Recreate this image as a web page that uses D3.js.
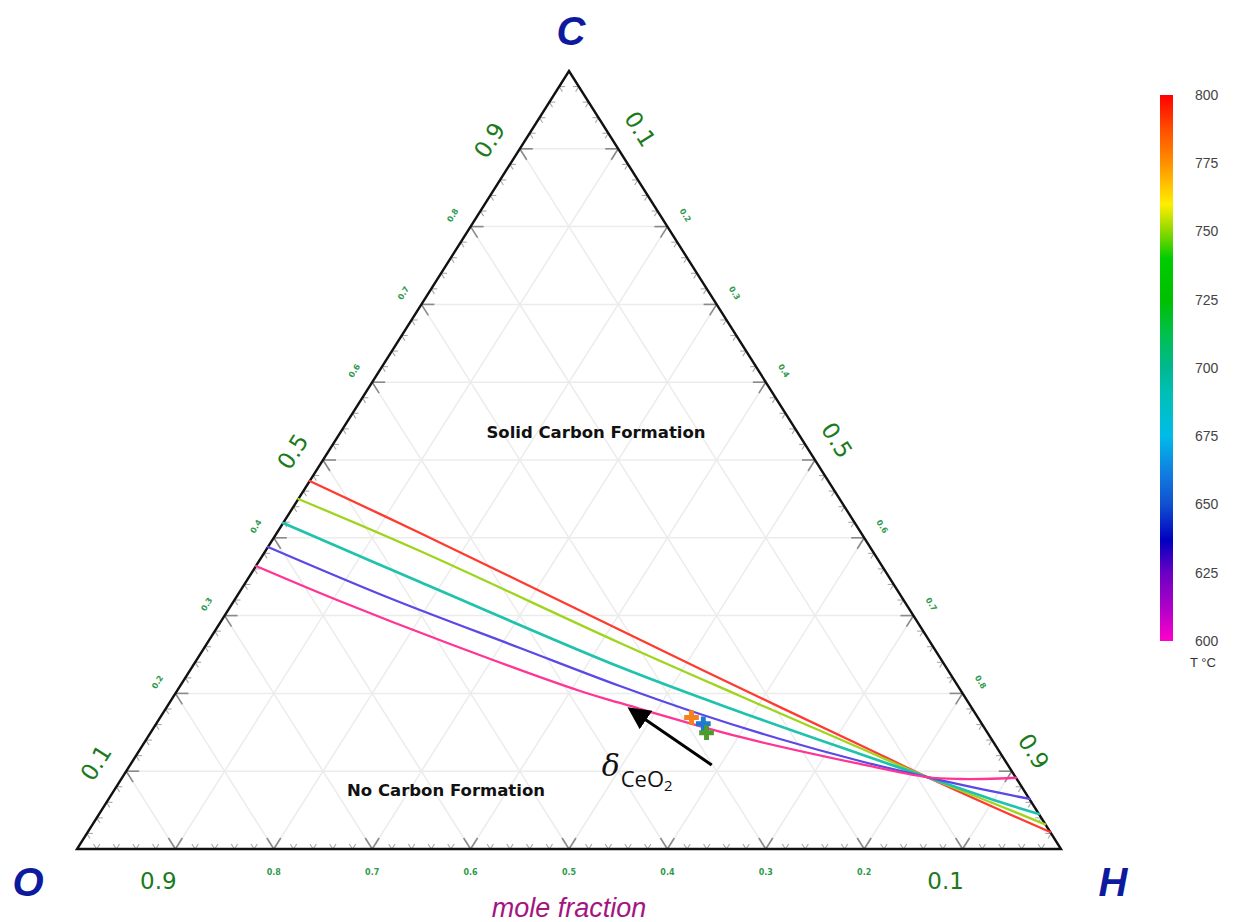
<!DOCTYPE html>
<html><head><meta charset="utf-8">
<script src="https://cdn.jsdelivr.net/npm/d3@7"></script>
<style>body{margin:0;background:#fff;} svg{display:block;}</style>
</head><body>
<svg id="chart" width="1235" height="922"></svg>
<script>
// ---------- data (ternary points as [H fraction, C fraction]; O = 1 - H - C) ----------
const temperatures = [800, 750, 700, 650, 600];
const curve800 = [[0.000,0.473],[0.1455,0.4062],[0.4111,0.2815],[0.5703,0.2069],[0.7289,0.1337],[0.8175,0.0925],[0.9129,0.0501],[0.978,0.0219]];
const curve750 = [[0.000,0.4499],[0.1571,0.3830],[0.4194,0.2648],[0.5755,0.1967],[0.7308,0.1298],[0.8175,0.0925],[0.9104,0.0553],[0.968,0.0317]];
const curve700 = [[0.000,0.419],[0.1770,0.3432],[0.4349,0.2339],[0.5858,0.1761],[0.7347,0.1221],[0.8175,0.0925],[0.9078,0.0604],[0.955,0.045]];
const curve650 = [[0.000,0.3882],[0.1594,0.3213],[0.3210,0.2584],[0.4470,0.2095],[0.5463,0.1735],[0.6437,0.1414],[0.7391,0.1131],[0.8175,0.0925],[0.902,0.0720],[0.936,0.0643]];
const curve600 = [[0.000,0.3638],[0.1042,0.3201],[0.2474,0.2635],[0.4097,0.2031],[0.4580,0.1877],[0.6018,0.1440],[0.7411,0.1093],[0.8175,0.0925],[0.8524,0.0900],[0.8927,0.0906],[0.9084,0.0916]];
const markerPoints = [[0.540,0.169],[0.556,0.161],[0.565,0.1495]];
const arrowPoints = [[0.591,0.108],[0.472,0.180]];
const gridValues = [0.1,0.2,0.3,0.4,0.5,0.6,0.7,0.8,0.9];
const leftLabels = ["0.1","0.2","0.3","0.4","0.5","0.6","0.7","0.8","0.9"];
const rightLabels = ["0.1","0.2","0.3","0.4","0.5","0.6","0.7","0.8","0.9"];
const bottomLabels = ["0.9","0.8","0.7","0.6","0.5","0.4","0.3","0.2","0.1"];
const bigLabels = ["0.1","0.5","0.9"];
const colorbarTicks = [600,625,650,675,700,725,750,775,800];

// ---------- styles ----------
const curveColors = {800:"#ff3b30", 750:"#9ed51c", 700:"#1fc2ad", 650:"#5a49e6", 600:"#ff3595"};
const markerColors = ["#f5821f","#1f78d1","#4c9b2f"];
const cbStops = [[600,"#ff00cc"],[612,"#b000c8"],[625,"#6a00c4"],[637,"#0000c0"],[650,"#1050d0"],[662,"#1080e0"],[675,"#00bbe8"],[690,"#00c0b8"],[700,"#00b890"],[712,"#00c050"],[725,"#00c000"],[740,"#00cc00"],[750,"#8cd800"],[760,"#ffee00"],[775,"#ff9000"],[787,"#ff5000"],[800,"#ff0000"]];

const svg = d3.select("#chart");

// ternary scales
const xs = d3.scaleLinear().domain([0,1]).range([77,1061]);
const ys = d3.scaleLinear().domain([0,1]).range([849,71]);
const px = (h,c) => xs(h + c/2);
const py = (h,c) => ys(c);
const P = (h,c) => [px(h,c), py(h,c)];

const vO = P(0,0), vH = P(1,0), vC = P(0,1);
function unit(a,b){const dx=b[0]-a[0], dy=b[1]-a[1]; const l=Math.hypot(dx,dy); return [dx/l, dy/l];}
const dOC = unit(vO,vC), dCH = unit(vC,vH);

// ---------- gridlines ----------
const grid = svg.append("g").attr("stroke","#ececec").attr("stroke-width",1.5).attr("fill","none");
gridValues.forEach(v=>{
  grid.append("line").attr("x1",px(0,v)).attr("y1",py(0,v)).attr("x2",px(1-v,v)).attr("y2",py(1-v,v));
  grid.append("line").attr("x1",px(v,0)).attr("y1",py(v,0)).attr("x2",px(v,1-v)).attr("y2",py(v,1-v));
  grid.append("line").attr("x1",px(1-v,0)).attr("y1",py(1-v,0)).attr("x2",px(0,1-v)).attr("y2",py(0,1-v));
});

// ---------- ticks ----------
const ticks = svg.append("g").attr("fill","none");
const tickVals = d3.range(1,50).map(i=>i/50);
tickVals.forEach(t=>{
  const major = Math.abs(t*10 - Math.round(t*10)) < 1e-6;
  const L = major ? 13 : 6;
  const col = major ? "#8a8a8a" : "#a8a8a8";
  const sw = major ? 1.6 : 1.1;
  const seg = (p, d) => ticks.append("line").attr("x1",p[0]).attr("y1",p[1]).attr("x2",p[0]+d[0]*L).attr("y2",p[1]+d[1]*L).attr("stroke",col).attr("stroke-width",sw);
  const pb = P(1-t,0); seg(pb,[-dCH[0],-dCH[1]]); seg(pb,dOC);
  const pl = P(0,t); seg(pl,[1,0]); seg(pl,dCH);
  const pr = P(t,1-t); seg(pr,[-1,0]); seg(pr,[-dOC[0],-dOC[1]]);
});

// ---------- triangle ----------
svg.append("path").attr("d", d3.line()([vO,vH,vC]) + "Z")
  .attr("fill","none").attr("stroke","#111").attr("stroke-width",2.4).attr("stroke-linejoin","miter");

// ---------- axis labels ----------
const green = "#1b7a1b", smallGreen = "#2f9a4c";
const ang = Math.atan2(vO[1]-vC[1], vC[0]-vO[0]) * 180/Math.PI;
const nLeft = [dOC[1], -dOC[0]];
const nRight = [dCH[1], -dCH[0]];
const lab = svg.append("g").attr("font-family","DejaVu Sans, sans-serif");
gridValues.forEach((v,i)=>{
  let big = bigLabels.includes(leftLabels[i]);
  let off = big ? 30 : 21, sh = big ? -9 : 0;
  let p = P(0,v);
  lab.append("text").attr("transform",`translate(${p[0]+nLeft[0]*off+dOC[0]*sh},${p[1]+nLeft[1]*off+dOC[1]*sh}) rotate(${-ang})`)
    .attr("text-anchor","middle").attr("dominant-baseline","central")
    .attr("font-size", big?23:8).attr("font-weight", big?"normal":"bold")
    .attr("fill", big?green:smallGreen).text(leftLabels[i]);
  big = bigLabels.includes(rightLabels[i]);
  off = big ? 29 : 21; sh = big ? -5 : 0;
  p = P(v,1-v);
  lab.append("text").attr("transform",`translate(${p[0]+nRight[0]*off+dCH[0]*sh},${p[1]+nRight[1]*off+dCH[1]*sh}) rotate(${ang})`)
    .attr("text-anchor","middle").attr("dominant-baseline","central")
    .attr("font-size", big?23:8).attr("font-weight", big?"normal":"bold")
    .attr("fill", big?green:smallGreen).text(rightLabels[i]);
  const ov = +bottomLabels[i];
  big = (bottomLabels[i]==="0.9" || bottomLabels[i]==="0.1");
  p = P(1-ov,0);
  lab.append("text").attr("x", p[0] + (big?-17:0)).attr("y", big?889:875)
    .attr("text-anchor","middle")
    .attr("font-size", big?23:8).attr("font-weight", big?"normal":"bold")
    .attr("fill", big?green:smallGreen).text(bottomLabels[i]);
});

// vertex labels
const vfont = "Liberation Sans, Arial, sans-serif";
const vtx = (x,y,t)=>svg.append("text").attr("x",x).attr("y",y).attr("text-anchor","middle")
  .attr("font-family",vfont).attr("font-weight","bold").attr("font-style","italic").attr("font-size",40).attr("fill","#0d1a9e").text(t);
vtx(vC[0]+2, vC[1]-26, "C");
vtx(vO[0]-49, vO[1]+47, "O");
vtx(vH[0]+52, vH[1]+47, "H");
svg.append("text").attr("x",569).attr("y",917).attr("text-anchor","middle")
  .attr("font-family",vfont).attr("font-style","italic").attr("font-size",27).attr("fill","#a3167f").text("mole fraction");

// region labels
svg.append("text").attr("x",596).attr("y",438).attr("text-anchor","middle")
  .attr("font-family","DejaVu Sans, sans-serif").attr("font-weight","bold").attr("font-size",16.5).attr("fill","#111").text("Solid Carbon Formation");
svg.append("text").attr("x",446).attr("y",796).attr("text-anchor","middle")
  .attr("font-family","DejaVu Sans, sans-serif").attr("font-weight","bold").attr("font-size",16.5).attr("fill","#111").text("No Carbon Formation");

// ---------- curves ----------
const curves = {800:curve800, 750:curve750, 700:curve700, 650:curve650, 600:curve600};
const lineGen = d3.line().x(d=>px(d[0],d[1])).y(d=>py(d[0],d[1])).curve(d3.curveCatmullRom.alpha(0.5));
const cg = svg.append("g").attr("fill","none");
temperatures.forEach(t=>{
  cg.append("path").attr("d", lineGen(curves[t])).attr("stroke", curveColors[t])
    .attr("stroke-width", t===700?2.7:2.3).attr("stroke-linecap","round");
});

// ---------- markers ----------
const mg = svg.append("g");
markerPoints.forEach((m,i)=>{
  mg.append("path").attr("d", d3.symbol(d3.symbolCross, 120)())
    .attr("transform",`translate(${px(m[0],m[1])},${py(m[0],m[1])})`).attr("fill",markerColors[i]);
});

// ---------- arrow annotation ----------
const defs = svg.append("defs");
defs.append("marker").attr("id","ah").attr("viewBox","0 0 10 10").attr("refX",2).attr("refY",5)
  .attr("markerWidth",7.5).attr("markerHeight",7.5).attr("orient","auto")
  .append("path").attr("d","M0,0 L10,5 L0,10 Z").attr("fill","#000");
const a0 = P(...arrowPoints[0]), a1 = P(...arrowPoints[1]);
const ad = unit(a0,a1);
svg.append("line").attr("x1",a0[0]).attr("y1",a0[1]).attr("x2",a1[0]-ad[0]*15).attr("y2",a1[1]-ad[1]*15)
  .attr("stroke","#000").attr("stroke-width",3).attr("marker-end","url(#ah)");
const tx = a0[0], ty = a0[1];
const dl = svg.append("text").attr("x",tx-110).attr("y",ty+11).attr("fill","#111");
dl.append("tspan").attr("font-family","DejaVu Serif, serif").attr("font-style","italic").attr("font-size",30).text("δ");
dl.append("tspan").attr("font-family","Open Sans, sans-serif").attr("font-size",22).attr("dy",11).attr("dx",1).text("CeO");
dl.append("tspan").attr("font-family","Open Sans, sans-serif").attr("font-size",15).attr("dy",4).text("2");

// ---------- colorbar ----------
const cbY = d3.scaleLinear().domain([600,800]).range([641,95]);
const grad = defs.append("linearGradient").attr("id","cbg").attr("x1",0).attr("y1",1).attr("x2",0).attr("y2",0);
cbStops.forEach(s=>grad.append("stop").attr("offset",(s[0]-600)/200).attr("stop-color",s[1]));
svg.append("rect").attr("x",1160).attr("y",cbY(800)).attr("width",13).attr("height",cbY(600)-cbY(800)).attr("fill","url(#cbg)");
const cbAxis = svg.append("g").attr("transform","translate(1195,0)")
  .call(d3.axisRight(cbY).tickValues(colorbarTicks).tickSize(0).tickPadding(0).tickFormat(d3.format("d")));
cbAxis.select(".domain").remove();
cbAxis.selectAll("text").attr("font-family","Liberation Sans, Arial, sans-serif").attr("font-size",14).attr("fill","#444");
svg.append("text").attr("x",1190).attr("y",667).attr("font-family","Liberation Sans, Arial, sans-serif")
  .attr("font-size",13).attr("fill","#333").text("T °C");
</script>
</body></html>
